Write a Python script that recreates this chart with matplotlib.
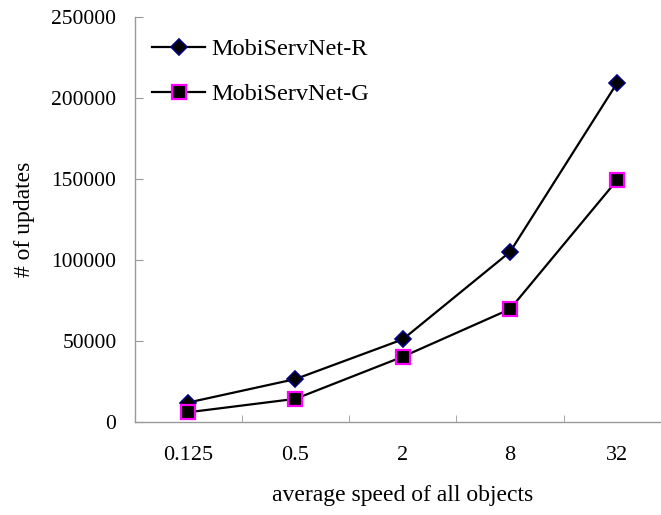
import matplotlib
matplotlib.use("Agg")
import matplotlib.pyplot as plt
from matplotlib.ticker import FixedLocator

categories = ["0.125", "0.5", "2", "8", "32"]
series_r = [12000, 26500, 51000, 105000, 209500]
series_g = [6000, 14300, 40300, 69700, 149500]
yticks = [0, 50000, 100000, 150000, 200000, 250000]

plt.rcParams['font.family'] = ['Liberation Serif', 'DejaVu Serif']

fig = plt.figure(figsize=(6.61, 5.15), dpi=100)
ax = fig.add_axes([134.5/661, 93/515, (671-134.5)/661, (422-17)/515])

x = list(range(len(categories)))
ax.plot(x, series_r, color='black', lw=1.6, marker='D', markersize=8,
        markerfacecolor='black', markeredgecolor='#000080', markeredgewidth=1.2,
        label='MobiServNet-R', zorder=3)
ax.plot(x, series_g, color='black', lw=1.6, marker='s', markersize=9.5,
        markerfacecolor='black', markeredgecolor='#FF00FF', markeredgewidth=1.6,
        label='MobiServNet-G', zorder=3)

ax.set_xlim(-0.5, len(categories) - 0.5)
ax.set_ylim(0, 250000)
ax.set_yticks(yticks)
ax.set_yticklabels([str(v) for v in yticks], fontsize=15.5)
ax.set_xticks(x)
ax.set_xticklabels(categories, fontsize=16)
ax.xaxis.set_minor_locator(FixedLocator([i + 0.5 for i in range(-1, len(categories))]))
ax.tick_params(axis='x', which='major', length=0, pad=17)
ax.tick_params(axis='x', which='minor', direction='in', length=5, color='#999999')
ax.tick_params(axis='y', which='major', direction='in', length=6, color='#999999', pad=13)

for s in ['top', 'right']:
    ax.spines[s].set_visible(False)
for s in ['left', 'bottom']:
    ax.spines[s].set_color('#999999')
    ax.spines[s].set_linewidth(1.0)

ax.set_xlabel('average speed of all objects', fontsize=17, labelpad=15)
ax.set_ylabel('# of updates', fontsize=17, labelpad=12)

leg = ax.legend(loc='upper left', bbox_to_anchor=(152/661, 1 - 38/515),
                bbox_transform=fig.transFigure, frameon=False, fontsize=17.5,
                handlelength=2.2, handletextpad=0.25, labelspacing=0.95,
                borderpad=0, borderaxespad=0)

fig.savefig('out.png', dpi=100)
